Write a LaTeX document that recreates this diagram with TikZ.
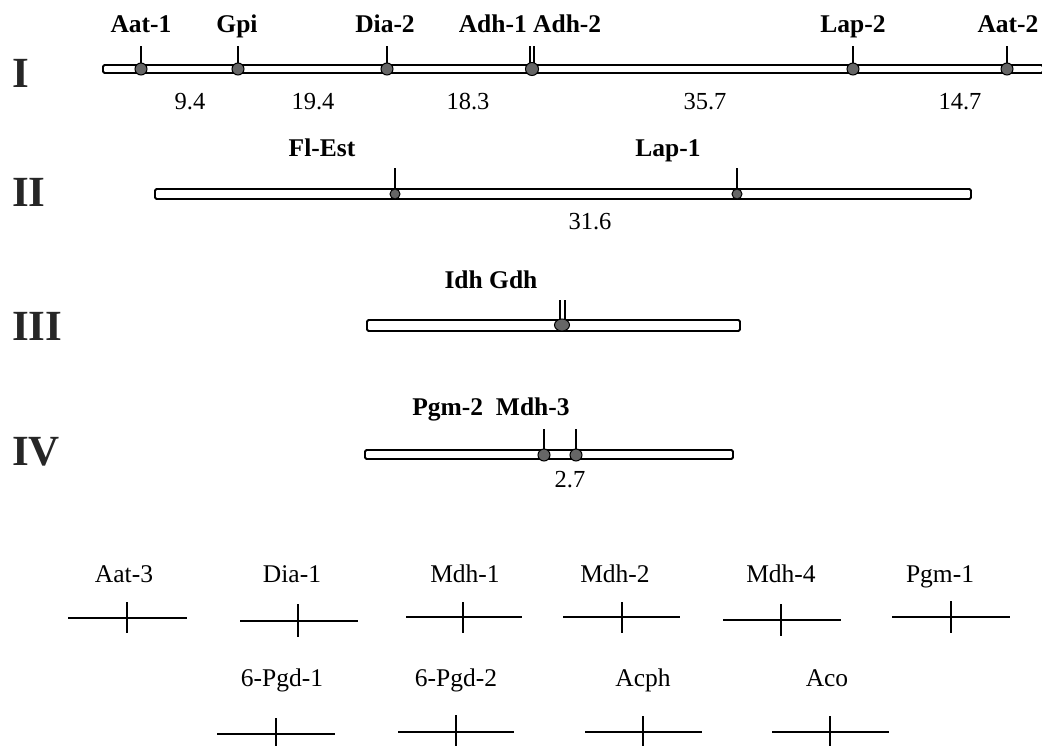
\documentclass[tikz,border=0pt]{standalone}
\usepackage{fontspec}
\usetikzlibrary{shapes.geometric}
\setmainfont{Liberation Serif}
\begin{document}
\begin{tikzpicture}[x=1pt,y=-1pt,
  chrom/.style={draw=black,line width=1.8pt,fill=white,rounded corners=1.5pt},
  locus/.style={circle,inner sep=0pt,minimum size=12pt,fill=black!60,draw=black,line width=1pt},
  slocus/.style={locus,minimum size=10pt},
  tickline/.style={line width=1.5pt},
  lab/.style={anchor=base,inner sep=0pt,font=\bfseries\fontsize{25.5}{28}\selectfont},
  dist/.style={anchor=base,inner sep=0pt,font=\fontsize{24.5}{28}\selectfont},
  roman/.style={anchor=base west,inner sep=0pt,text=black!85,font=\bfseries\fontsize{43}{48}\selectfont},
  uline/.style={line width=2.8pt},
  utick/.style={line width=1.2pt},
  ulab/.style={anchor=base,inner sep=0pt,font=\fontsize{25.5}{28}\selectfont}]
\useasboundingbox (0,0) rectangle (1042,746);

% ---------- Group I ----------
\node[roman] (rI) at (12,88) {I};
\draw[chrom] (103,65) rectangle (1043,73);
\coordinate (tA1) at (141,46);
\coordinate (tGp) at (238,46);
\coordinate (tD2) at (387,46);
\coordinate (tAdhA) at (530,46);
\coordinate (tAdhB) at (534,46);
\coordinate (tL2) at (853,46);
\coordinate (tA2) at (1007,46);
\draw[tickline] (141,69) -- (tA1);
\draw[tickline] (238,69) -- (tGp);
\draw[tickline] (387,69) -- (tD2);
\draw[tickline] (530,69) -- (tAdhA);
\draw[tickline] (534,69) -- (tAdhB);
\draw[tickline] (853,69) -- (tL2);
\draw[tickline] (1007,69) -- (tA2);
\node[locus] (dA1) at (141,69) {};
\node[locus] (dGp) at (238,69) {};
\node[locus] (dD2) at (387,69) {};
\node[locus,minimum size=13pt] (dAdh) at (532,69) {};
\node[locus] (dL2) at (853,69) {};
\node[locus] (dA2) at (1007,69) {};
\node[lab] (lA1) at (141,33) {Aat-1};
\node[lab] (lGp) at (237,33) {Gpi};
\node[lab] (lD2) at (385,33) {Dia-2};
\node[lab] (lAdh) at (530,33) {Adh-1 Adh-2};
\node[lab] (lL2) at (853,33) {Lap-2};
\node[lab] (lA2) at (1008,33) {Aat-2};
\node[dist] (n1) at (190,110) {9.4};
\node[dist] (n2) at (313,110) {19.4};
\node[dist] (n3) at (468,110) {18.3};
\node[dist] (n4) at (705,110) {35.7};
\node[dist] (n5) at (960,110) {14.7};

% ---------- Group II ----------
\node[roman] (rII) at (12,207) {II};
\draw[chrom] (155,189) rectangle (971,199);
\coordinate (tFE) at (395,168);
\coordinate (tL1) at (737,168);
\draw[tickline] (395,194) -- (tFE);
\draw[tickline] (737,194) -- (tL1);
\node[slocus] (dFE) at (395,194) {};
\node[slocus] (dL1) at (737,194) {};
\node[lab] (lFE) at (322,157) {Fl-Est};
\node[lab] (lL1) at (668,157) {Lap-1};
\node[dist] (n6) at (590,230) {31.6};

% ---------- Group III ----------
\node[roman] (rIII) at (12,340) {III};
\draw[chrom] (367,320) rectangle (740,331);
\coordinate (tIdh) at (560,300);
\coordinate (tGdh) at (565,300);
\draw[tickline] (560,325) -- (tIdh);
\draw[tickline] (565,325) -- (tGdh);
\node[ellipse,inner sep=0pt,minimum width=15pt,minimum height=12pt,fill=black!60,draw=black,line width=1pt] (dIG) at (562,325) {};
\node[lab] (lIG) at (491,288) {Idh Gdh};

% ---------- Group IV ----------
\node[roman] (rIV) at (12,465) {IV};
\draw[chrom] (365,450) rectangle (733,459);
\coordinate (tP2) at (544,429);
\coordinate (tM3) at (576,429);
\draw[tickline] (544,455) -- (tP2);
\draw[tickline] (576,455) -- (tM3);
\node[locus] (dP2) at (544,455) {};
\node[locus] (dM3) at (576,455) {};
\node[lab] (lPM) at (491,415) {Pgm-2\ \ Mdh-3};
\node[dist] (n7) at (570,487) {2.7};

% ---------- Unlinked loci, row 1 ----------
\node[ulab] (uAat3) at (124,582) {Aat-3};
\draw[uline] (68,618) -- (187,618);
\draw[utick] (127,602) -- (127,633);
\node[ulab] (uDia1) at (292,582) {Dia-1};
\draw[uline] (240,621) -- (358,621);
\draw[utick] (298,604) -- (298,637);
\node[ulab] (uMdh1) at (465,582) {Mdh-1};
\draw[uline] (406,617) -- (522,617);
\draw[utick] (463,602) -- (463,633);
\node[ulab] (uMdh2) at (615,582) {Mdh-2};
\draw[uline] (563,617) -- (680,617);
\draw[utick] (622,602) -- (622,633);
\node[ulab] (uMdh4) at (781,582) {Mdh-4};
\draw[uline] (723,620) -- (841,620);
\draw[utick] (781,604) -- (781,636);
\node[ulab] (uPgm1) at (940,582) {Pgm-1};
\draw[uline] (892,617) -- (1010,617);
\draw[utick] (951,601) -- (951,633);

% ---------- Unlinked loci, row 2 ----------
\node[ulab] (uPgd1) at (282,686) {6-Pgd-1};
\draw[uline] (217,734) -- (335,734);
\draw[utick] (276,718) -- (276,750);
\node[ulab] (uPgd2) at (456,686) {6-Pgd-2};
\draw[uline] (398,732) -- (514,732);
\draw[utick] (456,715) -- (456,750);
\node[ulab] (uAcph) at (643,686) {Acph};
\draw[uline] (585,732) -- (702,732);
\draw[utick] (643,716) -- (643,750);
\node[ulab] (uAco) at (827,686) {Aco};
\draw[uline] (772,732) -- (889,732);
\draw[utick] (830,716) -- (830,750);
\end{tikzpicture}
\end{document}
